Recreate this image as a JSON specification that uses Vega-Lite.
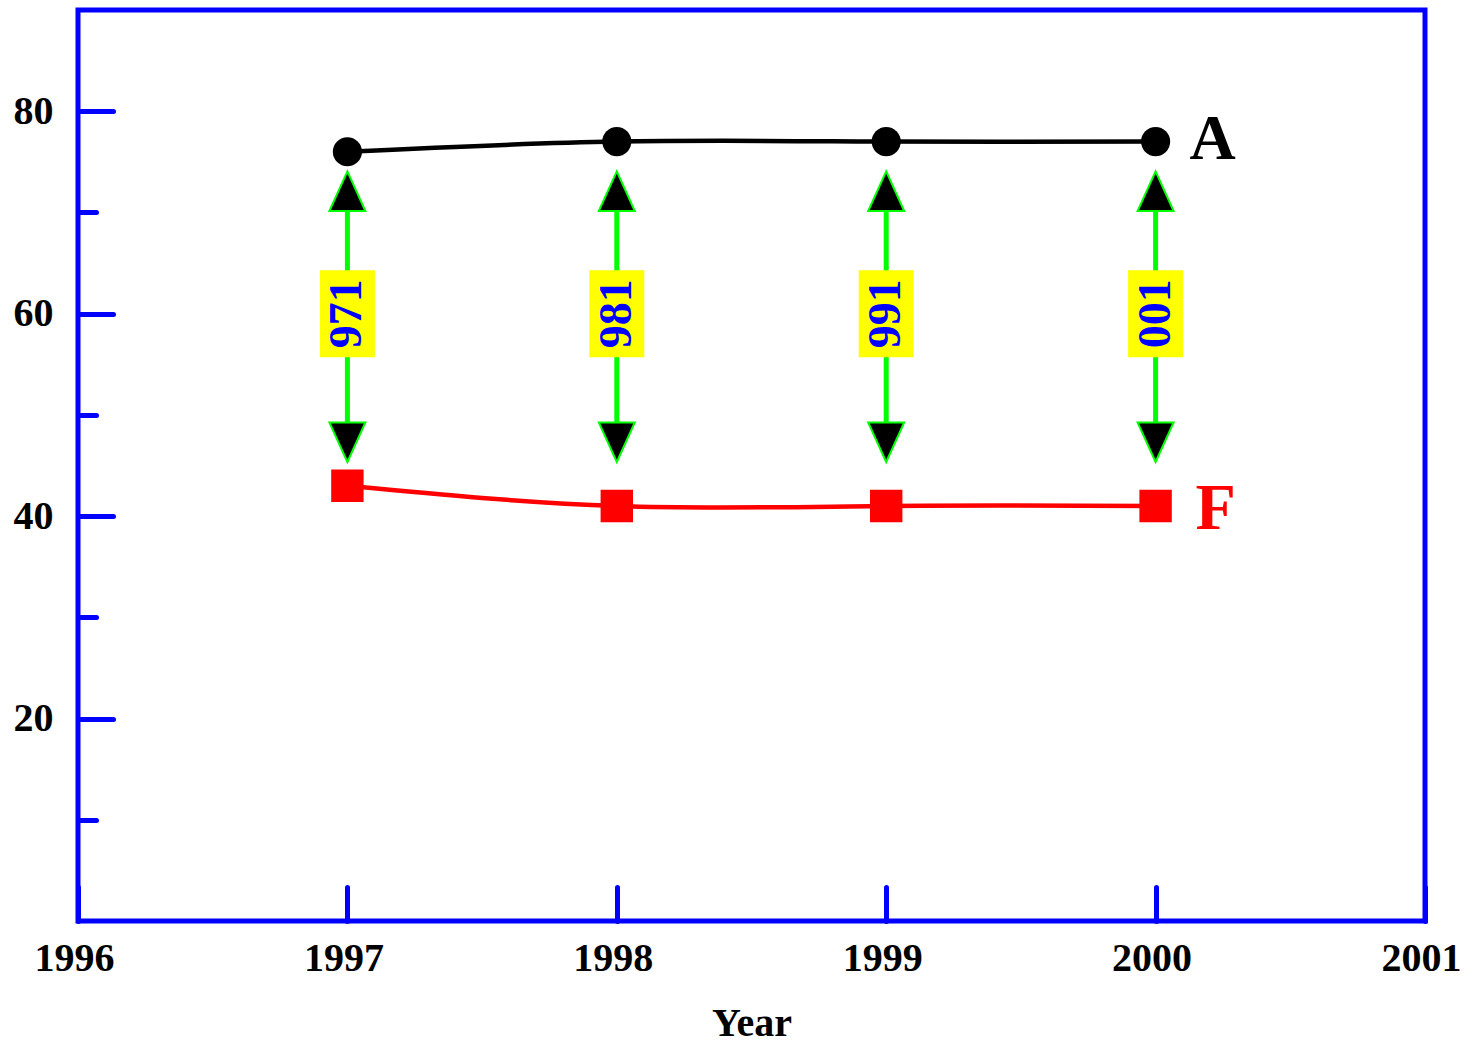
{
  "$schema": "https://vega.github.io/schema/vega-lite/v6.json",
  "width": 1347,
  "height": 911,
  "autosize": {"type": "none"},
  "padding": {"left": 78, "top": 10, "right": 42, "bottom": 124},
  "background": "white",
  "config": {
    "view": {"stroke": "#0000ff", "strokeWidth": 5},
    "font": "Liberation Serif"
  },
  "datasets": {
    "series": [
      {"year": 1997, "series": "A", "value": 76},
      {"year": 1998, "series": "A", "value": 77},
      {"year": 1999, "series": "A", "value": 77},
      {"year": 2000, "series": "A", "value": 77},
      {"year": 1997, "series": "F", "value": 43},
      {"year": 1998, "series": "F", "value": 41},
      {"year": 1999, "series": "F", "value": 41},
      {"year": 2000, "series": "F", "value": 41}
    ],
    "arrows": [
      {"year": 1997, "label": "971", "up": 72.1, "down": 47.3, "ruleTop": 71, "ruleBottom": 48.5, "mid": 60},
      {"year": 1998, "label": "981", "up": 72.1, "down": 47.3, "ruleTop": 71, "ruleBottom": 48.5, "mid": 60},
      {"year": 1999, "label": "991", "up": 72.1, "down": 47.3, "ruleTop": 71, "ruleBottom": 48.5, "mid": 60},
      {"year": 2000, "label": "001", "up": 72.1, "down": 47.3, "ruleTop": 71, "ruleBottom": 48.5, "mid": 60}
    ]
  },
  "layer": [
    {
      "data": {"name": "series"},
      "mark": {"type": "line", "interpolate": "natural", "strokeWidth": 4.5},
      "encoding": {
        "x": {
          "field": "year", "type": "quantitative",
          "scale": {"domain": [1996, 2001], "nice": false, "zero": false},
          "axis": {
            "values": [1996, 1997, 1998, 1999, 2000, 2001],
            "format": "d",
            "domain": false,
            "grid": false,
            "tickColor": "#0000ff",
            "tickWidth": 5,
            "tickSize": -34,
            "tickCap": "round",
            "labelFlush": false,
            "labelOverlap": false,
            "labelOffset": -4,
            "labelFont": "Liberation Serif",
            "labelFontWeight": "bold",
            "labelFontSize": 40,
            "labelColor": "black",
            "labelPadding": 51,
            "title": "Year",
            "titleFont": "Liberation Serif",
            "titleFontWeight": "bold",
            "titleFontSize": 40,
            "titleColor": "black",
            "titlePadding": 25
          }
        },
        "y": {
          "field": "value", "type": "quantitative",
          "scale": {"domain": [0, 90], "nice": false, "zero": false},
          "axis": {
            "values": [10, 20, 30, 40, 50, 60, 70, 80],
            "labelExpr": "datum.value % 20 === 0 ? datum.label : ''",
            "domain": false,
            "grid": false,
            "tickColor": "#0000ff",
            "tickWidth": 5,
            "tickSize": {"condition": {"test": "datum.value % 20 === 0", "value": -35}, "value": -18},
            "tickCap": "round",
            "labelFont": "Liberation Serif",
            "labelFontWeight": "bold",
            "labelFontSize": 40,
            "labelColor": "black",
            "labelPadding": 60,
            "title": null
          }
        },
        "color": {
          "field": "series", "type": "nominal",
          "scale": {"domain": ["A", "F"], "range": ["#000000", "#ff0000"]},
          "legend": null
        }
      }
    },
    {
      "data": {"name": "arrows"},
      "mark": {"type": "rule", "color": "#00ff00", "strokeWidth": 5},
      "encoding": {
        "x": {"field": "year", "type": "quantitative"},
        "y": {"field": "ruleTop", "type": "quantitative"},
        "y2": {"field": "ruleBottom"}
      }
    },
    {
      "data": {"name": "arrows"},
      "mark": {"type": "point", "shape": "M-0.632,-1L0.632,-1L0.632,1L-0.632,1Z", "size": 7569, "filled": true, "fill": "#ffff00", "strokeWidth": 0, "opacity": 1},
      "encoding": {
        "x": {"field": "year", "type": "quantitative"},
        "y": {"field": "mid", "type": "quantitative"}
      }
    },
    {
      "data": {"name": "arrows"},
      "mark": {"type": "text", "angle": 270, "align": "center", "baseline": "middle", "font": "Liberation Serif", "fontWeight": "bold", "fontSize": 46, "color": "#0000ff"},
      "encoding": {
        "x": {"field": "year", "type": "quantitative"},
        "y": {"field": "mid", "type": "quantitative"},
        "text": {"field": "label"}
      }
    },
    {
      "data": {"name": "arrows"},
      "mark": {"type": "point", "shape": "M0,-1.1L-1,1.1L1,1.1Z", "size": 1296, "filled": true, "fill": "#000000", "stroke": "#00ff00", "strokeWidth": 2, "opacity": 1},
      "encoding": {
        "x": {"field": "year", "type": "quantitative"},
        "y": {"field": "up", "type": "quantitative"}
      }
    },
    {
      "data": {"name": "arrows"},
      "mark": {"type": "point", "shape": "M0,1.1L-1,-1.1L1,-1.1Z", "size": 1296, "filled": true, "fill": "#000000", "stroke": "#00ff00", "strokeWidth": 2, "opacity": 1},
      "encoding": {
        "x": {"field": "year", "type": "quantitative"},
        "y": {"field": "down", "type": "quantitative"}
      }
    },
    {
      "data": {"name": "series"},
      "transform": [{"filter": "datum.series === 'A'"}],
      "mark": {"type": "point", "shape": "circle", "size": 850, "filled": true, "color": "#000000", "opacity": 1},
      "encoding": {
        "x": {"field": "year", "type": "quantitative"},
        "y": {"field": "value", "type": "quantitative"}
      }
    },
    {
      "data": {"name": "series"},
      "transform": [{"filter": "datum.series === 'F'"}],
      "mark": {"type": "point", "shape": "square", "size": 1050, "filled": true, "color": "#ff0000", "opacity": 1},
      "encoding": {
        "x": {"field": "year", "type": "quantitative"},
        "y": {"field": "value", "type": "quantitative"}
      }
    },
    {
      "data": {"name": "series"},
      "transform": [{"filter": "datum.year === 2000 && datum.series === 'A'"}],
      "mark": {"type": "text", "align": "left", "baseline": "middle", "dx": 34, "dy": -2, "font": "Liberation Serif", "fontWeight": "bold", "fontSize": 64, "color": "#000000"},
      "encoding": {
        "x": {"field": "year", "type": "quantitative"},
        "y": {"field": "value", "type": "quantitative"},
        "text": {"field": "series"}
      }
    },
    {
      "data": {"name": "series"},
      "transform": [{"filter": "datum.year === 2000 && datum.series === 'F'"}],
      "mark": {"type": "text", "align": "left", "baseline": "middle", "dx": 40, "dy": 3, "font": "Liberation Serif", "fontWeight": "bold", "fontSize": 66, "color": "#ff0000"},
      "encoding": {
        "x": {"field": "year", "type": "quantitative"},
        "y": {"field": "value", "type": "quantitative"},
        "text": {"field": "series"}
      }
    }
  ]
}
